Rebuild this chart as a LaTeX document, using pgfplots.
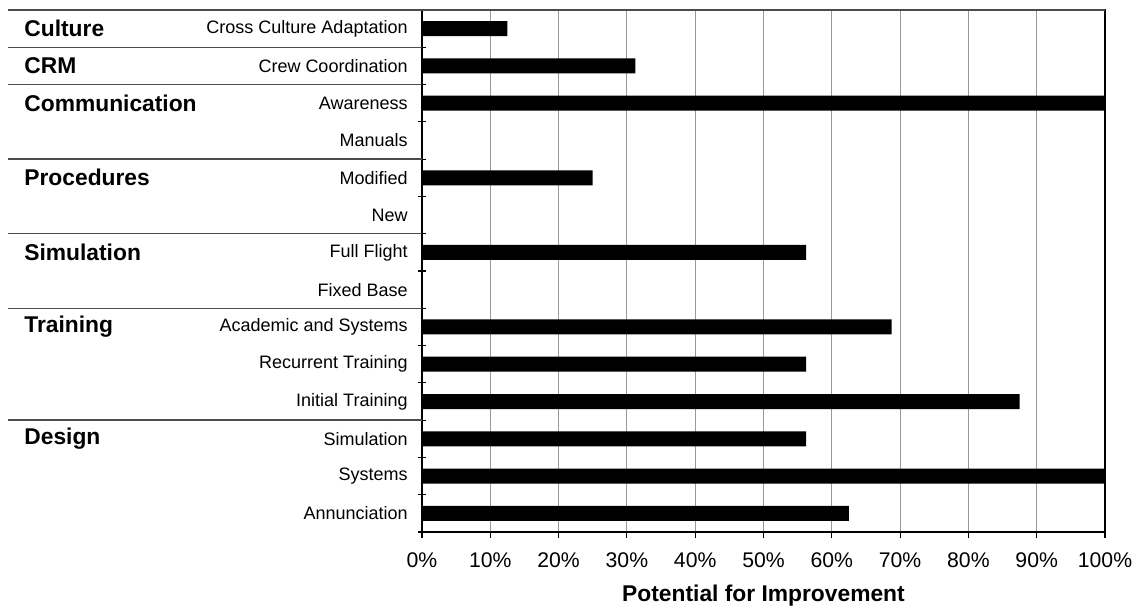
\documentclass[border=0pt]{standalone}
\usepackage{pgfplots}
\pgfplotsset{compat=1.18}
\usepackage{fontspec}
\setmainfont{Liberation Sans}
\begin{document}
\begin{tikzpicture}
\path[use as bounding box] (-211pt,-37pt) rectangle (359pt,266pt);
\begin{axis}[
  at={(0,0)}, anchor=south west,
  scale only axis, width=341.5pt, height=261pt,
  xmin=0, xmax=100, ymin=-0.5, ymax=13.5,
  xbar, bar width=7.5pt,
  xtick={0,10,...,100},
  xticklabel={\pgfmathprintnumber{\tick}\%},
  /pgf/number format/assume math mode=true,
  xticklabel style={font=\fontsize{10.6}{12}\selectfont, yshift=-4pt},
  xmajorgrids, major grid style={black!40, line width=0.5pt},
  ytick={0,...,13},
  yticklabels={Annunciation,Systems,Simulation,Initial Training,Recurrent Training,Academic and Systems,Fixed Base,Full Flight,New,Modified,Manuals,Awareness,Crew Coordination,Cross Culture Adaptation},
  yticklabel style={font=\fontsize{9}{11}\selectfont, anchor=east, inner sep=0pt, xshift=-4pt},
  major y tick style={draw=none},
  tick align=outside, major tick length=3pt,
  xtick pos=bottom, ytick pos=left,
  major x tick style={line width=0.6pt, black},
  axis line style={line width=0.75pt},
  xlabel={\bfseries Potential for Improvement},
  xlabel style={font=\fontsize{11.4}{13}\selectfont\bfseries, yshift=-1.5pt},
  clip=false,
]
\addplot[fill=black, draw=none] coordinates {
(62.5,0) (100,1) (56.25,2) (87.5,3) (56.25,4) (68.75,5) (0,6) (56.25,7) (0,8) (25,9) (0,10) (100,11) (31.25,12) (12.5,13)
};
\foreach \b in {-0.5,0.5,1.5,...,13.5} {
  \edef\tmp{\noexpand\draw[black, line width=0.6pt] ([xshift=-2pt]axis cs:0,\b) -- ([xshift=2pt]axis cs:0,\b);}
  \tmp
}
\foreach \b in {12.5,11.5,9.5,7.5,5.5,2.5} {
  \edef\tmp{\noexpand\draw[black!70, line width=0.75pt] (axis cs:0,\b) -- ([xshift=-207pt]axis cs:0,\b);}
  \tmp
}
\draw[black!70, line width=0.75pt] (axis cs:100,13.5) -- ([xshift=-207pt]axis cs:0,13.5);
\foreach \lab/\r in {Culture/13,CRM/12,Communication/11,Procedures/9,Simulation/7,Training/5,Design/2} {
  \edef\tmp{\noexpand\node[anchor=west, inner sep=0pt, font=\noexpand\fontsize{11.4}{13}\noexpand\selectfont\noexpand\bfseries] at ([xshift=-199pt]axis cs:0,\r) {\lab};}
  \tmp
}
\end{axis}
\end{tikzpicture}
\end{document}
